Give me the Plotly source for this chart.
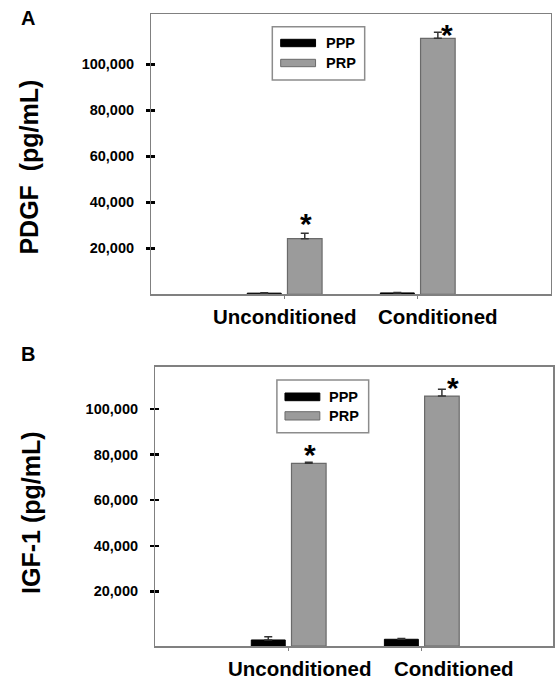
import plotly.graph_objects as go

# ---------------- data ----------------
categories = ["Unconditioned", "Conditioned"]
series_names = ["PPP", "PRP"]
x_pos = [1, 2]

pdgf_ppp = [500, 600]
pdgf_ppp_err = [200, 200]
pdgf_prp = [24200, 111300]
pdgf_prp_err = [2300, 2600]

igf_ppp = [-1350, -1050]
igf_ppp_err = [1450, 300]
igf_prp = [76200, 105700]
igf_prp_err = [450, 2950]

y_tickvals = [20000, 40000, 60000, 80000, 100000]
y_ticktext = ["20,000", "40,000", "60,000", "80,000", "100,000"]

# ---------------- layout helpers ----------------
W, H = 555, 681
def px(x):
    return x / W
def py(y):
    return 1 - y / H

FONT = "Liberation Sans, Arial, sans-serif"
AXIS_GRAY = "#808080"
PRP_FILL = "#9b9b9b"
PRP_LINE = "#6a6a6a"

A_YMAX = 121870
B_YMIN, B_YMAX = -4000, 118600

fig = go.Figure()

def add_panel(ppp, ppp_err, prp, prp_err, xa, ya, base=None):
    b = 0 if base is None else base
    fig.add_trace(go.Bar(
        x=x_pos, y=[v - b for v in ppp], base=base, name="PPP",
        width=0.255, offset=-0.28,
        marker=dict(color="black", line=dict(color="black", width=1)),
        error_y=dict(type="data", array=ppp_err, arrayminus=[0] * len(ppp_err),
                     symmetric=False, color="#333333", thickness=1.5, width=4),
        xaxis=xa, yaxis=ya, showlegend=False))
    fig.add_trace(go.Bar(
        x=x_pos, y=[v - b for v in prp], base=base, name="PRP",
        width=0.26, offset=0.022,
        marker=dict(color=PRP_FILL, line=dict(color=PRP_LINE, width=1.2)),
        error_y=dict(type="data", array=prp_err, arrayminus=[0] * len(prp_err),
                     symmetric=False, color="#333333", thickness=1.5, width=4),
        xaxis=xa, yaxis=ya, showlegend=False))

add_panel(pdgf_ppp, pdgf_ppp_err, pdgf_prp, pdgf_prp_err, "x", "y")
add_panel(igf_ppp, igf_ppp_err, igf_prp, igf_prp_err, "x2", "y2", base=B_YMIN)

# invisible traces for inward-tick overlay axes
fig.add_trace(go.Scatter(x=[None], y=[None], xaxis="x", yaxis="y3", showlegend=False, hoverinfo="skip"))
fig.add_trace(go.Scatter(x=[None], y=[None], xaxis="x2", yaxis="y4", showlegend=False, hoverinfo="skip"))

tickfont = dict(family=FONT, size=14.5, color="black", weight="bold")

def xaxis_cfg(dom, rng, anchor):
    return dict(domain=dom, range=rng, anchor=anchor, tickvals=x_pos, ticktext=categories,
                showticklabels=False, ticks="outside", ticklen=3, tickwidth=1,
                tickcolor=AXIS_GRAY, showline=True, linecolor=AXIS_GRAY, linewidth=1.5,
                mirror=True, showgrid=False, zeroline=False, fixedrange=True)

def yaxis_cfg(dom, rng, anchor):
    return dict(domain=dom, range=rng, anchor=anchor, tickvals=y_tickvals, ticktext=y_ticktext,
                ticks="outside", ticklen=4, tickwidth=2.5, tickcolor="black",
                tickfont=tickfont, ticklabelstandoff=9,
                showline=True, linecolor=AXIS_GRAY, linewidth=1.5, mirror=True,
                showgrid=False, zeroline=False, fixedrange=True)

def overlay_cfg(over, rng, anchor):
    return dict(overlaying=over, anchor=anchor, range=rng, tickvals=y_tickvals,
                ticks="inside", ticklen=4, tickwidth=2.5, tickcolor="black",
                showticklabels=False, showline=False, showgrid=False, zeroline=False,
                fixedrange=True)

A_XDOM = [px(152), px(552.7)]
A_YDOM = [py(294.3), py(14)]
B_XDOM = [px(156), 1.0]
B_YDOM = [py(646), py(366.7)]

fig.update_layout(
    width=W, height=H, margin=dict(l=0, r=0, t=0, b=0),
    paper_bgcolor="white", plot_bgcolor="white",
    xaxis=xaxis_cfg(A_XDOM, [0, 3.0], "y"),
    yaxis=yaxis_cfg(A_YDOM, [0, A_YMAX], "x"),
    xaxis2=xaxis_cfg(B_XDOM, [0, (555 - 156) / 133.6], "y2"),
    yaxis2=yaxis_cfg(B_YDOM, [B_YMIN, B_YMAX], "x2"),
    yaxis3=overlay_cfg("y", [0, A_YMAX], "x"),
    yaxis4=overlay_cfg("y2", [B_YMIN, B_YMAX], "x2"),
    bargap=0, showlegend=False,
)

ann = []
bold = lambda s: dict(family=FONT, size=s, color="black", weight="bold")

# panel letters
ann.append(dict(text="A", x=px(28), y=py(18), xref="paper", yref="paper",
                showarrow=False, font=bold(20), xanchor="center", yanchor="middle"))
ann.append(dict(text="B", x=px(28), y=py(354), xref="paper", yref="paper",
                showarrow=False, font=bold(20), xanchor="center", yanchor="middle"))

# y titles
ann.append(dict(text="PDGF\u00a0\u00a0(pg/mL)", x=px(28.7), y=py(167), xref="paper", yref="paper",
                textangle=-90, showarrow=False, font=bold(25), xanchor="center", yanchor="middle"))
ann.append(dict(text="IGF-1 (pg/mL)", x=px(31), y=py(513), xref="paper", yref="paper",
                textangle=-90, showarrow=False, font=bold(25), xanchor="center", yanchor="middle"))

# category labels
for i, (cat, xs) in enumerate(zip(categories, [0, 20])):
    ann.append(dict(text=cat, x=x_pos[i], y=py(316), xref="x", yref="paper", xshift=xs,
                    showarrow=False, font=bold(20.5), xanchor="center", yanchor="middle"))
for i, (cat, xs) in enumerate(zip(categories, [11, 32])):
    ann.append(dict(text=cat, x=x_pos[i], y=py(668.5), xref="x2", yref="paper", xshift=xs,
                    showarrow=False, font=bold(20.5), xanchor="center", yanchor="middle"))

# significance stars
prp_center = 0.022 + 0.13
for i, (xs, ys) in enumerate([(1.5, 10), (9, -2)]):
    ann.append(dict(text="*", x=x_pos[i] + prp_center, y=pdgf_prp[i] + pdgf_prp_err[i],
                    xref="x", yref="y", xshift=xs, yshift=ys, showarrow=False,
                    font=bold(30), xanchor="center", yanchor="middle"))
for i, (xs, ys) in enumerate([(1.5, 8), (11, 2)]):
    ann.append(dict(text="*", x=x_pos[i] + prp_center, y=igf_prp[i] + igf_prp_err[i],
                    xref="x2", yref="y2", xshift=xs, yshift=ys, showarrow=False,
                    font=bold(30), xanchor="center", yanchor="middle"))

# custom legends
shapes = []
def legend(box, sw_x, sw_y, text_x):
    x0, x1, y0, y1 = box
    shapes.append(dict(type="rect", xref="paper", yref="paper", x0=px(x0), x1=px(x1),
                       y0=py(y1), y1=py(y0), line=dict(color="#8c8c8c", width=1.5),
                       fillcolor="white"))
    fills = ["black", PRP_FILL]
    lines = ["black", PRP_LINE]
    for k, name in enumerate(series_names):
        ya, yb = sw_y[k]
        shapes.append(dict(type="rect", xref="paper", yref="paper", x0=px(sw_x[0]), x1=px(sw_x[1]),
                           y0=py(yb), y1=py(ya), line=dict(color=lines[k], width=1),
                           fillcolor=fills[k]))
        ann.append(dict(text=name, x=px(text_x), y=py((ya + yb) / 2), xref="paper", yref="paper",
                        showarrow=False, font=bold(14.5),
                        xanchor="left", yanchor="middle"))

legend((273.3, 366, 26.7, 80), (281.7, 316.7), [(39.3, 46.7), (59.3, 66.7)], 325)
legend((277.9, 370, 380, 432.7), (286, 321), [(393, 400.7), (411.7, 420)], 328)

fig.update_layout(annotations=ann, shapes=shapes)

fig.write_html("out.html", config={"displayModeBar": False, "staticPlot": True},
               post_script="document.body.style.margin='0';document.body.style.overflow='hidden';")
